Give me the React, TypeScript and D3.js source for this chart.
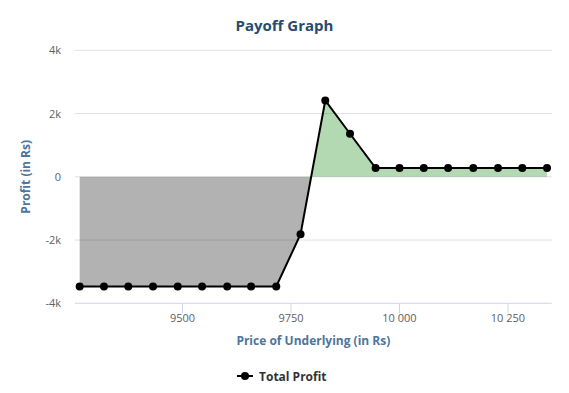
import React from "react";
import * as d3 from "d3";

const prices = [9263, 9319, 9375, 9432, 9489, 9545, 9603, 9658, 9716, 9772, 9829, 9886, 9945, 10000, 10056, 10112, 10170, 10227, 10283, 10340];
const profits = [-3470, -3470, -3470, -3470, -3470, -3470, -3470, -3470, -3470, -1813, 2414, 1361, 275, 275, 275, 275, 275, 275, 275, 275];
const yTicks = [-4000, -2000, 0, 2000, 4000];
const yTickLabels = ["-4k", "-2k", "0", "2k", "4k"];
const xTicks = [9500, 9750, 10000, 10250];
const xTickLabels = ["9500", "9750", "10 000", "10 250"];

const W = 569, H = 393;
const left = 75, right = 551.7, top = 50.3, bottom = 303.3;
const font = "'Open Sans', 'DejaVu Sans', sans-serif";

export default function App() {
  const minX = d3.min(prices)!, maxX = d3.max(prices)!;
  const pad = (maxX - minX) * 0.01;
  const x = d3.scaleLinear().domain([minX - pad, maxX + pad]).range([left, right]);
  const y = d3.scaleLinear().domain([-4000, 4000]).range([bottom, top]);
  const data = prices.map((p, i) => ({ p, v: profits[i] }));
  const y0 = y(0);
  const area = d3.area<{ p: number; v: number }>().x(d => x(d.p)).y0(y0).y1(d => y(d.v))(data) || "";
  const line = d3.line<{ p: number; v: number }>().x(d => x(d.p)).y(d => y(d.v))(data) || "";

  return (
    <svg width={W} height={H} style={{ position: "absolute", left: 0, top: 0, background: "#fff" }} fontFamily={font}>
      <defs>
        <clipPath id="above"><rect x={left} y={top - 20} width={right - left} height={y0 - top + 20} /></clipPath>
        <clipPath id="below"><rect x={left} y={y0} width={right - left} height={bottom - y0 + 20} /></clipPath>
      </defs>
      <text x={W / 2} y={31} textAnchor="middle" fontSize={15} fontWeight="bold" fill="#274b6d">Payoff Graph</text>
      {yTicks.map((t, i) => (
        <g key={t}>
          {t !== -4000 && <line x1={left} x2={right} y1={y(t)} y2={y(t)} stroke="#e0e0e0" strokeWidth={1} />}
          <text x={61} y={y(t) + 4} textAnchor="end" fontSize={11} fill="#606060">{yTickLabels[i]}</text>
        </g>
      ))}
      <path d={area} fill="rgb(0,128,0)" fillOpacity={0.3} clipPath="url(#above)" />
      <path d={area} fill="#000" fillOpacity={0.3} clipPath="url(#below)" />
      <line x1={left} x2={right} y1={bottom} y2={bottom} stroke="#ccd6eb" strokeWidth={1} />
      {xTicks.map((t, i) => (
        <g key={t}>
          <line x1={x(t)} x2={x(t)} y1={bottom} y2={bottom + 10} stroke="#ccd6eb" strokeWidth={1} />
          <text x={x(t)} y={322} textAnchor="middle" fontSize={11} fill="#606060">{xTickLabels[i]}</text>
        </g>
      ))}
      <path d={line} fill="none" stroke="#000" strokeWidth={2} />
      {data.map((d, i) => (
        <circle key={i} cx={x(d.p)} cy={y(d.v)} r={4} fill="#000" />
      ))}
      <text x={(left + right) / 2} y={345} textAnchor="middle" fontSize={12} fontWeight="bold" fill="#4d759e">Price of Underlying (in Rs)</text>
      <text transform={`translate(30, ${(top + bottom) / 2}) rotate(-90)`} textAnchor="middle" fontSize={12} fontWeight="bold" fill="#4d759e">Profit (in Rs)</text>
      <line x1={237} x2={253} y1={376} y2={376} stroke="#000" strokeWidth={2} />
      <circle cx={245} cy={376} r={4} fill="#000" />
      <text x={259} y={380.5} fontSize={12} fontWeight="bold" fill="#333">Total Profit</text>
    </svg>
  );
}
